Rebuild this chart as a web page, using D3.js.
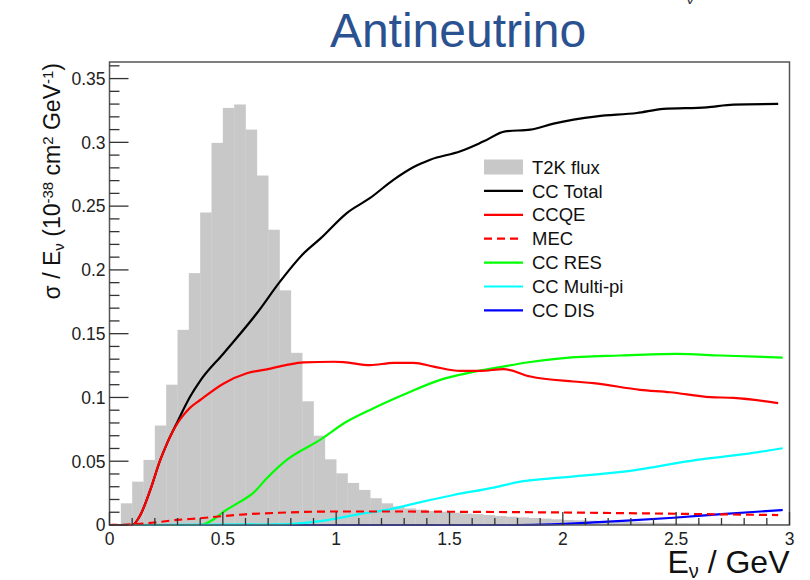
<!DOCTYPE html>
<html>
<head>
<meta charset="utf-8">
<script src="https://cdn.jsdelivr.net/npm/d3@7"></script>
<style>
  body { margin: 0; background: #fff; }
  svg { display: block; font-family: "Liberation Sans", Arial, sans-serif; }
</style>
</head>
<body>
<svg id="chart" width="810" height="580"></svg>
<script>
// T2K antineutrino flux, 0.05 GeV bins from 0 to 3 GeV
const binWidth = 0.05;
const fluxValues = [
  0, 0.017, 0.034, 0.051, 0.078, 0.110, 0.153, 0.1975, 0.245, 0.2996,
  0.327, 0.3297, 0.310, 0.274, 0.2315, 0.184, 0.135, 0.097, 0.070, 0.0515,
  0.0405, 0.033, 0.0275, 0.021, 0.017, 0.0145, 0.013, 0.012, 0.011, 0.0105,
  0.0097, 0.009, 0.0085, 0.0078, 0.007, 0.0065, 0.006, 0.0055, 0.005, 0.0045,
  0.004, 0.0037, 0.0034, 0.003, 0.0027, 0.0024, 0.0021, 0.0019, 0.0017, 0.0015,
  0.0014, 0.0013, 0.0012, 0.0011, 0.001, 0.0009, 0.0008, 0.0008, 0.0007, 0.0007
];

// cross sections [E (GeV), sigma/E]
const ccTotal = [[0,0],[0.1,0],[0.136,0.0078],[0.18,0.0275],[0.224,0.051],[0.254,0.064],[0.3,0.081],
  [0.356,0.1007],[0.4,0.113],[0.504,0.1347],[0.65,0.166],[0.753,0.191],[0.857,0.213],[0.93,0.2245],
  [1.047,0.2446],[1.15,0.2564],[1.254,0.2708],[1.342,0.2807],[1.415,0.2864],[1.548,0.293],[1.651,0.3008],
  [1.746,0.3086],[1.857,0.31],[1.959,0.3147],[2.15,0.3204],[2.327,0.323],[2.444,0.3262],[2.635,0.3275],
  [2.753,0.3296],[2.95,0.3301]];
const ccqe = [[0,0],[0.1,0],[0.136,0.0078],[0.18,0.0275],[0.224,0.051],[0.254,0.064],[0.3,0.0798],
  [0.327,0.0863],[0.356,0.092],[0.4,0.098],[0.504,0.111],[0.606,0.119],[0.694,0.122],[0.782,0.1255],
  [0.857,0.1275],[0.99,0.128],[1.033,0.1277],[1.15,0.1253],[1.254,0.1271],[1.342,0.1271],[1.43,0.1242],
  [1.548,0.1208],[1.636,0.1208],[1.739,0.1222],[1.857,0.1164],[2.047,0.1125],[2.135,0.1112],[2.341,0.106],
  [2.473,0.1041],[2.65,0.1002],[2.753,0.0997],[2.95,0.0955]];
const mec = [[0,0],[0.1,0.0005],[0.2,0.002],[0.3,0.004],[0.4,0.0053],[0.5,0.007],[0.6,0.0084],
  [0.75,0.0096],[1.0,0.0106],[1.25,0.0106],[1.5,0.0104],[2.0,0.0098],[2.5,0.0088],[2.95,0.0078]];
const ccRes = [[0,0],[0.4,0],[0.46,0.0045],[0.504,0.0105],[0.577,0.0183],[0.636,0.0254],[0.694,0.0366],
  [0.782,0.051],[0.929,0.0667],[1.047,0.0811],[1.165,0.0916],[1.312,0.1033],[1.459,0.1138],[1.592,0.1195],
  [1.724,0.1238],[1.841,0.1274],[2.003,0.1308],[2.253,0.1329],[2.503,0.1342],[2.694,0.1329],[2.97,0.1313]];
const ccMultiPi = [[0,0],[0.75,0.0005],[0.85,0.0015],[0.93,0.003],[1.0,0.005],[1.1,0.0085],[1.224,0.0118],
  [1.35,0.017],[1.517,0.0235],[1.7,0.0295],[1.812,0.034],[2.0,0.0373],[2.297,0.0425],[2.591,0.051],
  [2.8,0.0555],[2.97,0.0602]];
const ccDis = [[0,0],[1.8,0],[1.95,0.0005],[2.135,0.002],[2.282,0.0034],[2.488,0.0057],[2.7,0.0085],[2.97,0.0118]];

const xTicks = [0, 0.5, 1, 1.5, 2, 2.5, 3];
const yTicks = [0, 0.05, 0.1, 0.15, 0.2, 0.25, 0.3, 0.35];

const series = [
  { name: "CC Total", data: ccTotal, color: "#000000", dash: null },
  { name: "CC RES", data: ccRes, color: "#00ff00", dash: null },
  { name: "CC DIS", data: ccDis, color: "#0000ff", dash: null },
  { name: "CC Multi-pi", data: ccMultiPi, color: "#00ffff", dash: null },
  { name: "CCQE", data: ccqe, color: "#ff0000", dash: null },
  { name: "MEC", data: mec, color: "#ff0000", dash: "8,5" }
];
const legendOrder = ["T2K flux", "CC Total", "CCQE", "MEC", "CC RES", "CC Multi-pi", "CC DIS"];

const plotLeft = 109.5, plotRight = 789.5, plotTop = 62, plotBottom = 525;

const svg = d3.select("#chart");

const x = d3.scaleLinear().domain([0, 3]).range([plotLeft, plotRight]);
const y = d3.scaleLinear().domain([0, 0.363]).range([plotBottom, plotTop]);

// title
svg.append("text")
  .attr("x", 458).attr("y", 47)
  .attr("text-anchor", "middle")
  .style("font-size", "48px")
  .style("fill", "#2a5291")
  .text("Antineutrino");
// cut-off glyph at the top edge
svg.append("text")
  .attr("x", 690).attr("y", 4)
  .attr("text-anchor", "middle")
  .style("font-size", "16px")
  .style("fill", "#333")
  .text("ν");

// flux histogram
svg.append("g")
  .selectAll("rect")
  .data(fluxValues)
  .join("rect")
  .attr("x", (d, i) => x(i * binWidth))
  .attr("width", (d, i) => x((i + 1) * binWidth) - x(i * binWidth) + 0.3)
  .attr("y", d => y(d))
  .attr("height", d => y(0) - y(d))
  .attr("fill", "#c8c8c8");

// curves
const line = d3.line()
  .x(d => x(d[0]))
  .y(d => y(d[1]))
  .curve(d3.curveMonotoneX);

svg.append("g")
  .selectAll("path")
  .data(series)
  .join("path")
  .attr("d", d => line(d.data))
  .attr("fill", "none")
  .attr("stroke", d => d.color)
  .attr("stroke-width", 2.2)
  .attr("stroke-dasharray", d => d.dash);

// frame
svg.append("rect")
  .attr("x", plotLeft).attr("y", plotTop)
  .attr("width", plotRight - plotLeft).attr("height", plotBottom - plotTop)
  .attr("fill", "none")
  .attr("stroke", "#555")
  .attr("stroke-width", 1.5);

// axes, ticks drawn inside the frame
const xAxis = svg.append("g").attr("transform", `translate(0,${plotBottom})`);
xAxis.selectAll("line")
  .data(d3.range(0, 31).map(i => i / 10))
  .join("line")
  .attr("x1", d => x(d)).attr("x2", d => x(d))
  .attr("y1", 0).attr("y2", d => (Math.round(d * 10) % 5 === 0 ? -13 : -7))
  .attr("stroke", "#333").attr("stroke-width", 1.3);
xAxis.selectAll("text")
  .data(xTicks)
  .join("text")
  .attr("x", d => x(d)).attr("y", 20)
  .attr("text-anchor", "middle")
  .style("font-size", "17.5px")
  .style("fill", "#222")
  .text(d => d3.format("")(d));

const yAxis = svg.append("g").attr("transform", `translate(${plotLeft},0)`);
yAxis.selectAll("line")
  .data(d3.range(0, 37).map(i => i / 100))
  .join("line")
  .attr("x1", 0)
  .attr("x2", d => (Math.round(d * 100) % 5 === 0 ? 19 : 10))
  .attr("y1", d => y(d)).attr("y2", d => y(d))
  .attr("stroke", "#333").attr("stroke-width", 1.3);
yAxis.selectAll("text")
  .data(yTicks)
  .join("text")
  .attr("x", -4).attr("y", d => y(d))
  .attr("dy", "0.36em")
  .attr("text-anchor", "end")
  .style("font-size", "17.5px")
  .style("fill", "#222")
  .text(d => d3.format("")(d));

// x title
const xt = svg.append("text")
  .attr("x", plotRight).attr("y", 573)
  .attr("text-anchor", "end")
  .style("font-size", "32px")
  .style("fill", "#111");
xt.append("tspan").text("E");
xt.append("tspan").attr("baseline-shift", "-25%").style("font-size", "20px").text("ν");
xt.append("tspan").text(" / GeV");

// y title
const yt = svg.append("text")
  .attr("transform", "translate(60,63) rotate(-90)")
  .attr("text-anchor", "end")
  .style("font-size", "23px")
  .style("fill", "#111");
yt.append("tspan").text("σ / E");
yt.append("tspan").attr("baseline-shift", "-25%").style("font-size", "15px").text("ν");
yt.append("tspan").text(" (10");
yt.append("tspan").attr("baseline-shift", "45%").style("font-size", "15px").text("-38");
yt.append("tspan").text(" cm");
yt.append("tspan").attr("baseline-shift", "45%").style("font-size", "15px").text("2");
yt.append("tspan").text(" GeV");
yt.append("tspan").attr("baseline-shift", "45%").style("font-size", "15px").text("-1");
yt.append("tspan").text(")");

// legend
const legend = svg.append("g").attr("transform", "translate(484,167)");
const rowH = 23.9;
legendOrder.forEach((name, i) => {
  const row = legend.append("g").attr("transform", `translate(0,${i * rowH})`);
  if (name === "T2K flux") {
    row.append("rect")
      .attr("x", 0).attr("y", -7.5).attr("width", 39).attr("height", 15)
      .attr("fill", "#c8c8c8");
  } else {
    const s = series.find(d => d.name === name);
    row.append("line")
      .attr("x1", 0).attr("x2", 39).attr("y1", 0).attr("y2", 0)
      .attr("stroke", s.color).attr("stroke-width", 2.2)
      .attr("stroke-dasharray", s.dash);
  }
  row.append("text")
    .attr("x", 48).attr("y", 0).attr("dy", "0.36em")
    .style("font-size", "18.5px")
    .style("fill", "#111")
    .text(name);
});
</script>
</body>
</html>
